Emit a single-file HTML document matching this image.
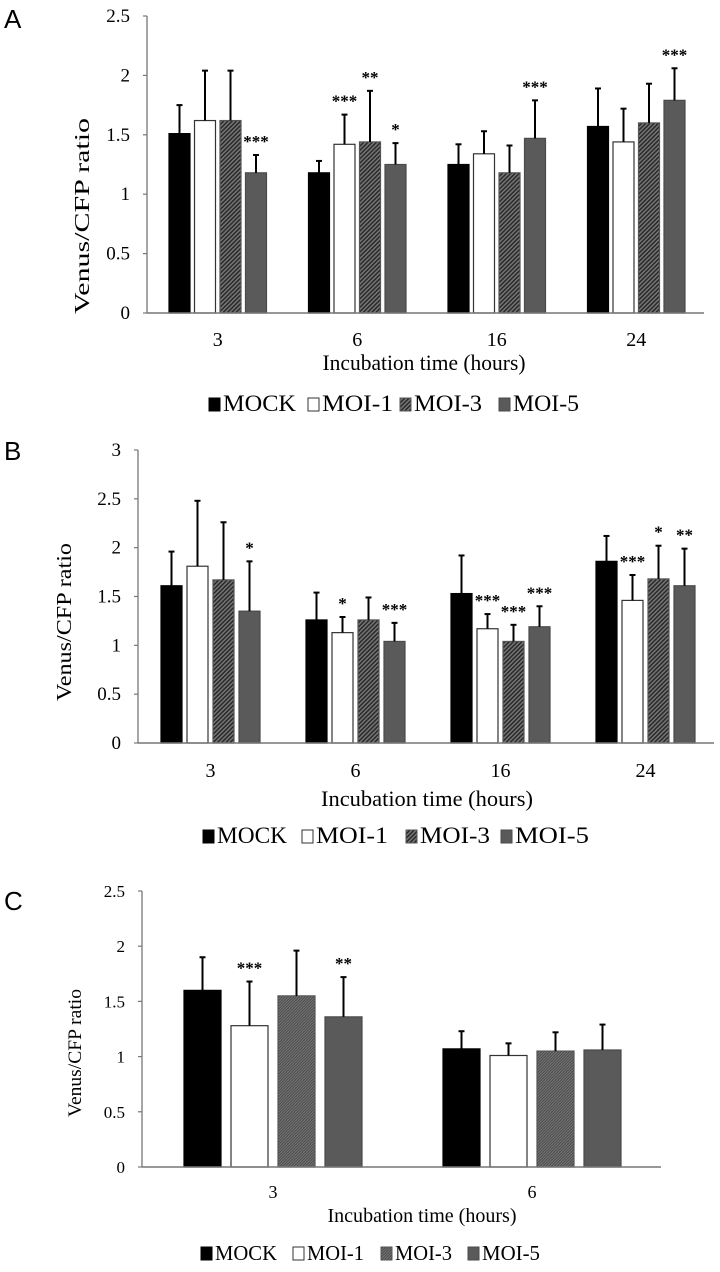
<!DOCTYPE html>
<html><head><meta charset="utf-8"><style>
html,body{margin:0;padding:0;background:#fff;}
svg{display:block;font-family:"Liberation Serif",serif;}
.lab{font-family:"Liberation Sans","DejaVu Sans",sans-serif;}
</style></head><body>
<svg id="fig" width="720" height="1272" viewBox="0 0 720 1272" xmlns="http://www.w3.org/2000/svg">
<defs>
<pattern id="hatch" width="3" height="3" patternUnits="userSpaceOnUse" patternTransform="rotate(45)">
<rect width="3" height="3" fill="#7a7a7a"/><rect width="1.6" height="3" fill="#2a2a2a"/>
</pattern>
<pattern id="hatchC" width="2" height="2" patternUnits="userSpaceOnUse" patternTransform="rotate(45)">
<rect width="2" height="2" fill="#777"/><rect width="1" height="2" fill="#4a4a4a"/>
</pattern>
</defs>
</svg>
<script>
// ---- Panel A data ----
const categoriesA = ["3","6","16","24"];
const mockA = [1.51,1.18,1.25,1.57];
const moi1A = [1.62,1.42,1.34,1.44];
const moi3A = [1.62,1.44,1.18,1.60];
const moi5A = [1.18,1.25,1.47,1.79];
const mockErrA = [0.24,0.10,0.17,0.32];
const moi1ErrA = [0.42,0.25,0.19,0.28];
const moi3ErrA = [0.42,0.43,0.23,0.33];
const moi5ErrA = [0.15,0.18,0.32,0.27];
const starsA = [["","","","***"],["","***","**","*"],["","","","***"],["","","","***"]];
const ticksA = ["0","0.5","1","1.5","2","2.5"];
// ---- Panel B data ----
const categoriesB = ["3","6","16","24"];
const mockB = [1.61,1.26,1.53,1.86];
const moi1B = [1.81,1.13,1.17,1.46];
const moi3B = [1.67,1.26,1.04,1.68];
const moi5B = [1.35,1.04,1.19,1.61];
const mockErrB = [0.35,0.28,0.39,0.26];
const moi1ErrB = [0.67,0.16,0.15,0.26];
const moi3ErrB = [0.59,0.23,0.17,0.34];
const moi5ErrB = [0.51,0.19,0.21,0.38];
const starsB = [["","","","*"],["","*","","***"],["","***","***","***"],["","***","*","**"]];
const ticksB = ["0","0.5","1","1.5","2","2.5","3"];
// ---- Panel C data ----
const categoriesC = ["3","6"];
const mockC = [1.60,1.07];
const moi1C = [1.28,1.01];
const moi3C = [1.55,1.05];
const moi5C = [1.36,1.06];
const mockErrC = [0.30,0.16];
const moi1ErrC = [0.40,0.11];
const moi3ErrC = [0.41,0.17];
const moi5ErrC = [0.36,0.23];
const starsC = [["","***","","**"],["","","",""]];
const ticksC = ["0","0.5","1","1.5","2","2.5"];
const seriesNames = ["MOCK","MOI-1","MOI-3","MOI-5"];

const NS="http://www.w3.org/2000/svg";
const svg=document.getElementById('fig');
function mk(tag,attrs,parent,text){const e=document.createElementNS(NS,tag);for(const k in attrs)e.setAttribute(k,attrs[k]);if(text!==undefined)e.textContent=text;(parent||svg).appendChild(e);return e;}

function panel(cfg){
  const g=mk('g',{});
  
  
  const yMax=parseFloat(cfg.ticks[cfg.ticks.length-1]);
  const y=v=>cfg.y0-(v/yMax)*(cfg.y0-cfg.yTop);
  const L=mk('text',{x:cfg.letterX,y:cfg.letterY,'font-size':26,class:'lab'},g,cfg.letter);
  
  
  const ya=mk('line',{x1:cfg.x0,y1:cfg.yTop,x2:cfg.x0,y2:cfg.y0,stroke:'#777','stroke-width':1.3},g);
  
  
  cfg.ticks.forEach(t=>{
    const v=parseFloat(t);
    mk('line',{x1:cfg.x0-4,y1:y(v),x2:cfg.x0,y2:y(v),stroke:'#777','stroke-width':1.2},g);
    const tl=mk('text',{x:cfg.x0-17,y:y(v)+6,'font-size':cfg.tickFs,'text-anchor':'end'},g,t);
    
    
  });
  const yt=mk('text',{x:0,y:0,'font-size':cfg.yTitleFs,'text-anchor':'middle',textLength:cfg.yTitleLen,lengthAdjust:'spacingAndGlyphs',transform:`translate(${cfg.yTitleX},${cfg.yTitleY}) rotate(-90)`},g,'Venus/CFP ratio');
  
  
  const fills=['#000','#fff',cfg.hatch,'#5a5a5a'];
  const strokes=['#000','#333','#555','#4a4a4a'];
  cfg.categories.forEach((c,i)=>{
    const gc=cfg.groupStart+i*cfg.groupStep;
    cfg.series.forEach((s,j)=>{
      const x=gc+j*cfg.barStep;
      const v=s[i];
      const r=mk('rect',{x:x,y:y(v),width:cfg.barW,height:cfg.y0-y(v),fill:fills[j],stroke:strokes[j],'stroke-width':1.2},g);
      
      
      const top=v+cfg.errs[j][i];
      const cx=x+cfg.barW/2;
      const eb=mk('line',{x1:cx,y1:y(v),x2:cx,y2:y(top),stroke:'#000','stroke-width':2},g);
      
      
      mk('line',{x1:cx-3,y1:y(top),x2:cx+3,y2:y(top),stroke:'#000','stroke-width':2},g);
      const st=cfg.stars[i][j];
      if(st){const t=mk('text',{x:cx,y:y(top)-8,'font-size':17,'font-weight':'bold','text-anchor':'middle'},g,st);
        
        }
    });
    const cl=mk('text',{x:gc+(cfg.barStep*3+cfg.barW)/2,y:cfg.tickY,'font-size':cfg.tickFs+1,'text-anchor':'middle'},g,c);
    
    
  });
  const xa=mk('line',{x1:cfg.x0,y1:cfg.y0,x2:cfg.xEnd,y2:cfg.y0,stroke:'#777','stroke-width':1.5},g);
  
  
  const xt=mk('text',{x:cfg.xTitleX,y:cfg.xTitleY,'font-size':cfg.xTitleFs,'text-anchor':'middle',textLength:cfg.xTitleLen,lengthAdjust:'spacingAndGlyphs'},g,'Incubation time (hours)');
  
  
  cfg.legend.forEach((lx,j)=>{
    const le=mk('g',{},g);
    
    
    mk('rect',{x:lx[0],y:cfg.legendY-13,width:11,height:13,fill:j===2?cfg.hatch:fills[j],stroke:strokes[j],'stroke-width':1},le);
    mk('text',{x:lx[0]+14,y:cfg.legendY,'font-size':cfg.legendFs,textLength:lx[1],lengthAdjust:'spacingAndGlyphs'},le,seriesNames[j]);
  });
}

panel({name:'panel-a',letter:'A',letterX:4,letterY:28,x0:147,xEnd:704,y0:313,yTop:16,ticks:ticksA,tickFs:19,
  categories:categoriesA,series:[mockA,moi1A,moi3A,moi5A],errs:[mockErrA,moi1ErrA,moi3ErrA,moi5ErrA],stars:starsA,
  groupStart:169,groupStep:139.5,barStep:25.5,barW:21,hatch:'url(#hatch)',tickY:346,
  yTitleFs:21,yTitleX:89,yTitleY:216,yTitleLen:196,xTitleFs:22,xTitleX:424,xTitleY:370,xTitleLen:203,
  legend:[[209,73],[308,71],[400,68],[499,66]],legendY:411,legendFs:23});
panel({name:'panel-b',letter:'B',letterX:4,letterY:460,x0:138,xEnd:714,y0:743,yTop:450,ticks:ticksB,tickFs:19,
  categories:categoriesB,series:[mockB,moi1B,moi3B,moi5B],errs:[mockErrB,moi1ErrB,moi3ErrB,moi5ErrB],stars:starsB,
  groupStart:161,groupStep:145,barStep:26,barW:21,hatch:'url(#hatch)',tickY:777,
  yTitleFs:21,yTitleX:71,yTitleY:622,yTitleLen:158,xTitleFs:22,xTitleX:427,xTitleY:806,xTitleLen:212,
  legend:[[203,70],[302,72],[406,70],[501,74]],legendY:843,legendFs:23});
panel({name:'panel-c',letter:'C',letterX:4,letterY:910,x0:142,xEnd:661,y0:1167,yTop:891,ticks:ticksC,tickFs:17,
  categories:categoriesC,series:[mockC,moi1C,moi3C,moi5C],errs:[mockErrC,moi1ErrC,moi3ErrC,moi5ErrC],stars:starsC,
  groupStart:184,groupStep:259,barStep:47,barW:37,hatch:'url(#hatchC)',tickY:1198,
  yTitleFs:19,yTitleX:81,yTitleY:1053,yTitleLen:128,xTitleFs:20,xTitleX:422,xTitleY:1222,xTitleLen:189,
  legend:[[201,62],[293,57],[381,57],[468,58]],legendY:1260,legendFs:21});
</script>
</body></html>
